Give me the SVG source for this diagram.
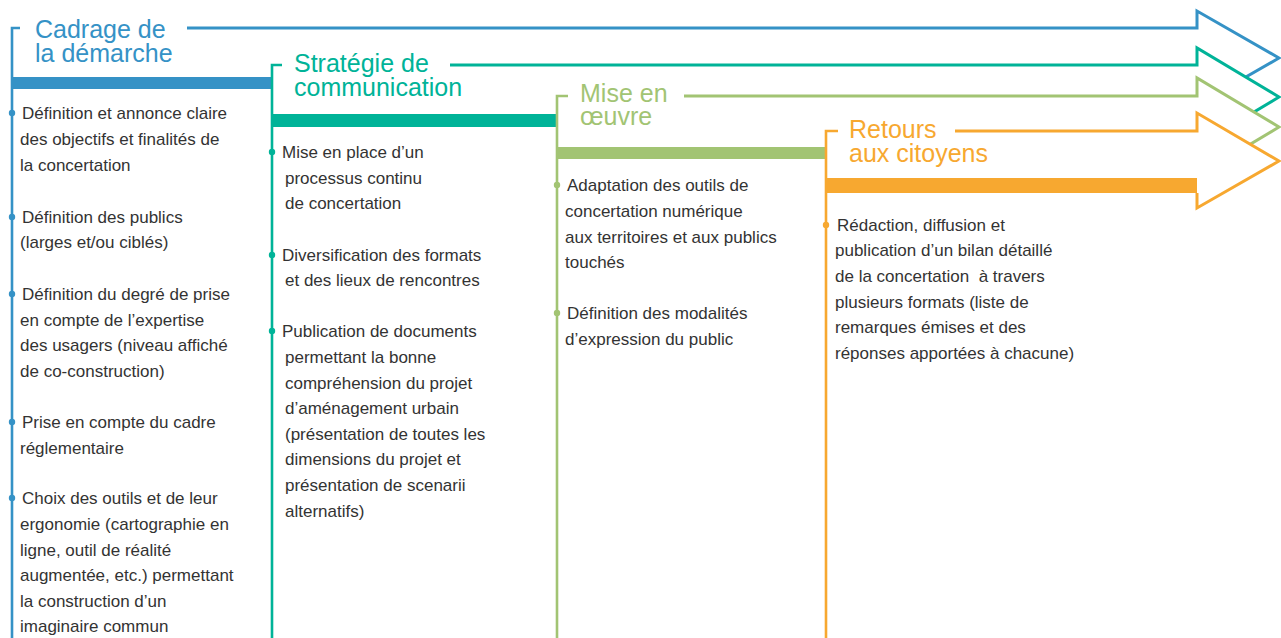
<svg xmlns="http://www.w3.org/2000/svg" width="1281" height="638" viewBox="0 0 1281 638">
<style>
.t{font-family:"Liberation Sans",Arial,sans-serif;font-size:25px}
.b{font-family:"Liberation Sans",Arial,sans-serif;font-size:17px;fill:#333}
.ln{fill:none;stroke-width:2.6}
.ar{fill:none;stroke-width:3;stroke-linejoin:miter}
.blue{stroke:#3592c6}.teal{stroke:#00b398}.lg{stroke:#a2c473}.or{stroke:#f7a830}
</style>
<rect width="1281" height="638" fill="#fff"/>
<g id="connectors">
<g id="arrow-cadrage">
<polygon points="12,28 1197,28 1197,11 1279,58 1197,105 1197,89 12,89" fill="#fff"/>
<path class="ar blue" d="M187,28 H1197 V11 L1279,58 L1197,105 V89"/>
<path class="ln blue" d="M20,28 H12 V638"/>
<rect x="12" y="77" width="260" height="12" fill="#3592c6"/>
</g>
<g id="arrow-strategie">
<polygon points="272,65 1197,65 1197,48 1279,97 1197,146 1197,127 272,127" fill="#fff"/>
<path class="ar teal" d="M450,65 H1197 V48 L1279,97 L1197,146 V127"/>
<path class="ln teal" d="M282,65 H272 V638"/>
<rect x="272" y="114" width="285" height="13" fill="#00b398"/>
</g>
<g id="arrow-mise">
<polygon points="557,96 1197,96 1197,78 1279,127 1197,176 1197,159 557,159" fill="#fff"/>
<path class="ar lg" d="M684,96 H1197 V78 L1279,127 L1197,176 V159"/>
<path class="ln lg" d="M568,96 H557 V638"/>
<rect x="557" y="147" width="269" height="12" fill="#a2c473"/>
</g>
<g id="arrow-retours">
<polygon points="826,131 1197,131 1197,113 1279,161 1197,208 1197,193 826,193" fill="#fff"/>
<path class="ar or" d="M955,131 H1197 V113 L1279,161 L1197,208 V193"/>
<path class="ln or" d="M838,131 H826 V638"/>
<rect x="826" y="178" width="371" height="15" fill="#f7a830"/>
</g>
</g>
<g id="node-cadrage">
<text class="t" fill="#3592c6"><tspan x="35" y="38">Cadrage de</tspan><tspan x="35" y="62">la démarche</tspan></text>
<g fill="#3592c6"><circle cx="12" cy="113" r="3.2"/><circle cx="12" cy="217" r="3.2"/><circle cx="12" cy="294" r="3.2"/><circle cx="12" cy="422" r="3.2"/><circle cx="12" cy="498" r="3.2"/></g>
<text class="b" x="22" y="119">Définition et annonce claire</text>
<text class="b" x="20" y="145">des objectifs et finalités de</text>
<text class="b" x="20" y="171">la concertation</text>
<text class="b" x="22" y="223">Définition des publics</text>
<text class="b" x="20" y="248">(larges et/ou ciblés)</text>
<text class="b" x="22" y="300">Définition du degré de prise</text>
<text class="b" x="20" y="326">en compte de l’expertise</text>
<text class="b" x="20" y="351">des usagers (niveau affiché</text>
<text class="b" x="20" y="377">de co-construction)</text>
<text class="b" x="22" y="428">Prise en compte du cadre</text>
<text class="b" x="20" y="454">réglementaire</text>
<text class="b" x="22" y="504">Choix des outils et de leur</text>
<text class="b" x="20" y="530">ergonomie (cartographie en</text>
<text class="b" x="20" y="556">ligne, outil de réalité</text>
<text class="b" x="20" y="581">augmentée, etc.) permettant</text>
<text class="b" x="20" y="607">la construction d’un</text>
<text class="b" x="20" y="632">imaginaire commun</text>
</g>
<g id="node-strategie">
<text class="t" fill="#00b398"><tspan x="294" y="72">Stratégie de</tspan><tspan x="294" y="96">communication</tspan></text>
<g fill="#00b398"><circle cx="272" cy="152" r="3.2"/><circle cx="272" cy="255" r="3.2"/><circle cx="272" cy="331" r="3.2"/></g>
<text class="b" x="282" y="158">Mise en place d’un</text>
<text class="b" x="285" y="184">processus continu</text>
<text class="b" x="285" y="209">de concertation</text>
<text class="b" x="282" y="261">Diversification des formats</text>
<text class="b" x="285" y="286">et des lieux de rencontres</text>
<text class="b" x="282" y="337">Publication de documents</text>
<text class="b" x="285" y="363">permettant la bonne</text>
<text class="b" x="285" y="389">compréhension du projet</text>
<text class="b" x="285" y="414">d’aménagement urbain</text>
<text class="b" x="285" y="440">(présentation de toutes les</text>
<text class="b" x="285" y="465">dimensions du projet et</text>
<text class="b" x="285" y="491">présentation de scenarii</text>
<text class="b" x="285" y="517">alternatifs)</text>
</g>
<g id="node-mise">
<text class="t" fill="#a2c473"><tspan x="580" y="102">Mise en</tspan><tspan x="580" y="125">œuvre</tspan></text>
<g fill="#a2c473"><circle cx="557" cy="185" r="3.2"/><circle cx="557" cy="313" r="3.2"/></g>
<text class="b" x="567" y="191">Adaptation des outils de</text>
<text class="b" x="565" y="217">concertation numérique</text>
<text class="b" x="565" y="243">aux territoires et aux publics</text>
<text class="b" x="565" y="268">touchés</text>
<text class="b" x="567" y="319">Définition des modalités</text>
<text class="b" x="565" y="345">d’expression du public</text>
</g>
<g id="node-retours">
<text class="t" fill="#f7a830"><tspan x="849" y="138">Retours</tspan><tspan x="849" y="162">aux citoyens</tspan></text>
<circle cx="826" cy="225" r="3.2" fill="#f7a830"/>
<text class="b" x="837" y="231">Rédaction, diffusion et</text>
<text class="b" x="835" y="256">publication d’un bilan détaillé</text>
<text class="b" x="835" y="282">de la concertation&#160; à travers</text>
<text class="b" x="835" y="308">plusieurs formats (liste de</text>
<text class="b" x="835" y="333">remarques émises et des</text>
<text class="b" x="835" y="359">réponses apportées à chacune)</text>
</g>
</svg>
